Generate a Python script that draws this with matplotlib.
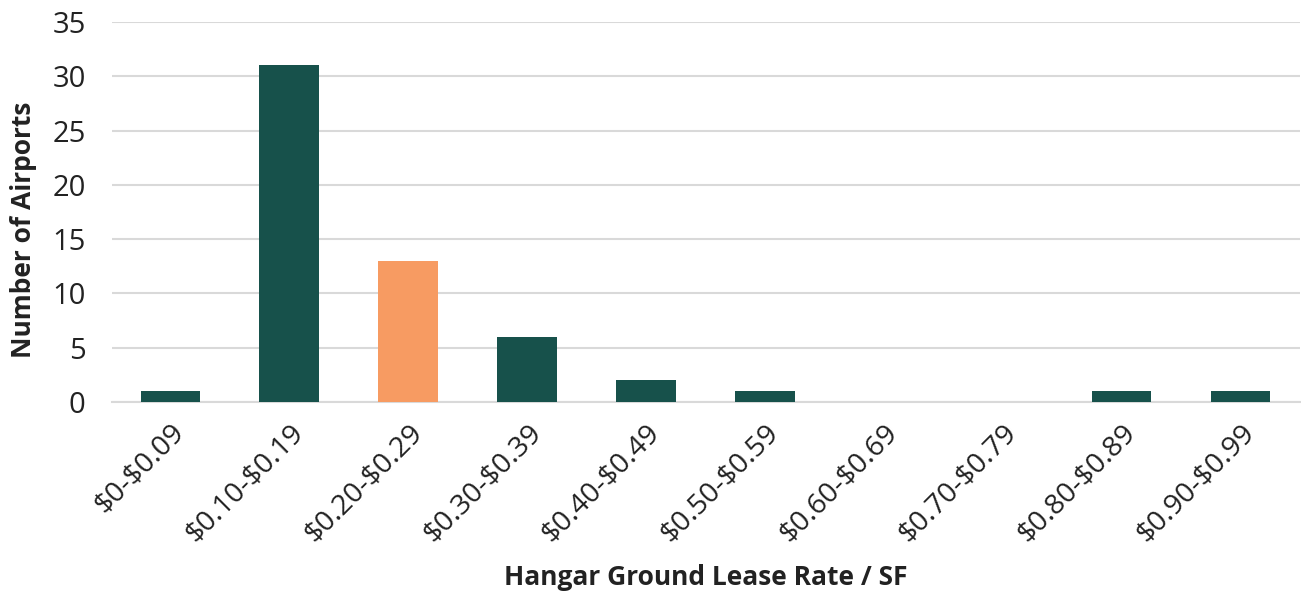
import matplotlib
matplotlib.use("Agg")
import matplotlib.pyplot as plt

categories = ["$0-$0.09", "$0.10-$0.19", "$0.20-$0.29", "$0.30-$0.39", "$0.40-$0.49",
              "$0.50-$0.59", "$0.60-$0.69", "$0.70-$0.79", "$0.80-$0.89", "$0.90-$0.99"]
counts = [1, 31, 13, 6, 2, 1, 0, 0, 1, 1]
highlight_index = 2

dark_green = "#17514B"
orange = "#F79B62"
colors = [orange if i == highlight_index else dark_green for i in range(len(categories))]

plt.rcParams["font.family"] = ["Open Sans", "DejaVu Sans"]
plt.rcParams["text.parse_math"] = False

W, H = 1301, 596
fig = plt.figure(figsize=(W / 100, H / 100), dpi=100)
ax = fig.add_axes([112 / W, (H - 402) / H, (1300 - 112) / W, (402 - 22) / H])

x = range(len(categories))
ax.bar(x, counts, width=0.5, color=colors, zorder=3)

ax.set_xlim(-0.49, 9.5)
ax.set_ylim(0, 35)
ax.set_yticks(range(0, 36, 5))
ax.yaxis.grid(True, color="#D9D9D9", linewidth=1.5, zorder=0)
ax.set_axisbelow(True)
for side in ("top", "right", "left"):
    ax.spines[side].set_visible(False)
ax.spines["bottom"].set_color("#D9D9D9")
ax.spines["bottom"].set_linewidth(1.5)

ax.tick_params(axis="both", length=0, labelcolor="#222222")
ax.tick_params(axis="y", pad=19, labelsize=21)
ax.set_xticks(list(x))
ax.set_xticklabels(categories, rotation=45, ha="right", rotation_mode="anchor")
ax.tick_params(axis="x", pad=12, labelsize=20.5)

ax.set_ylabel("Number of Airports", fontsize=19, fontweight="bold", color="#222222",
              va="center")
ax.yaxis.set_label_coords(-0.0745, 0.453)
ax.set_xlabel("Hangar Ground Lease Rate / SF", fontsize=19, fontweight="bold", color="#222222",
              va="center")
ax.xaxis.set_label_coords(0.5, -0.463)

fig.savefig("out.png", dpi=100)
